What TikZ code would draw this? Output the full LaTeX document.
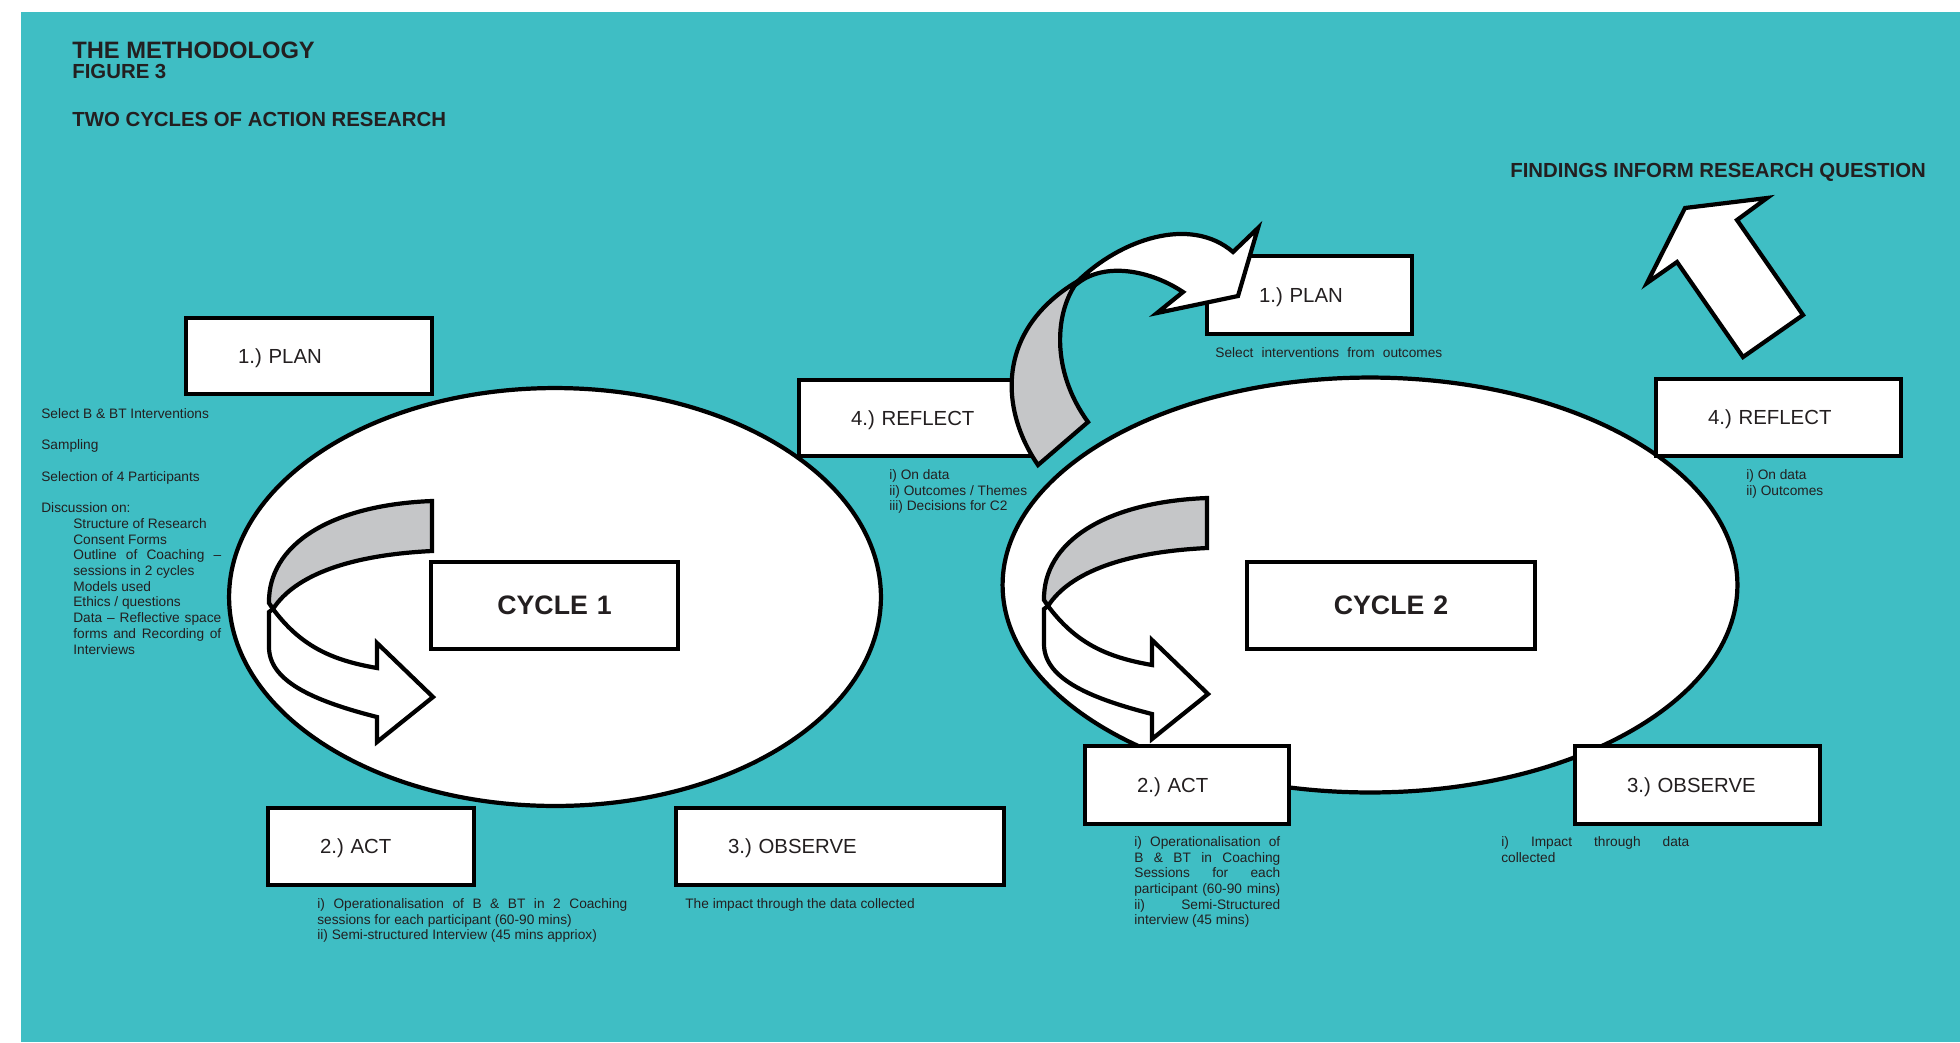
\documentclass[tikz,border=0pt]{standalone}
\usepackage{fontspec}
\setmainfont{Liberation Sans}
\usetikzlibrary{shapes.geometric}
\definecolor{ink}{HTML}{231F20}
\definecolor{lagoon}{HTML}{3FBEC4}
\definecolor{fold}{HTML}{C5C6C8}
\frenchspacing
\newcommand{\notefont}{\fontsize{7.8}{8.95}\selectfont}
\newcommand{\jline}[2]{\hbox to #1{#2}}
\tikzset{
  base/.style={inner sep=0pt, text=ink},
  note/.style={base, anchor=north west, align=left, font=\notefont},
  heading/.style={base, anchor=base west, font=\bfseries\fontsize{11.6}{13}\selectfont},
  stage/.style={draw=black, line width=2.4pt, fill=white, text=ink, inner xsep=1.04cm, inner ysep=0pt, text depth=0pt, align=left, font=\fontsize{11.6}{13}\selectfont},
  cycbox/.style={stage, align=center, inner xsep=0pt, font=\bfseries\fontsize{15.2}{17}\selectfont},
  cyclering/.style={ellipse, draw=black, line width=2.4pt, fill=white, inner sep=0pt},
  ribbon/.style={draw=black, line width=2.4pt, fill=#1},
}
\begin{document}
\begin{tikzpicture}[x=0.02cm, y=-0.02cm]
  \useasboundingbox (0,0) rectangle (1960,1042);
  \fill[lagoon] (21,12) rectangle (1960,1042);
  % headings
  \node[heading, font=\bfseries\fontsize{13.5}{15}\selectfont] (method) at (72,58) {THE METHODOLOGY};
  \node[heading] (figno) at (72,78) {FIGURE 3};
  \node[heading] (twocycles) at (72,126) {TWO CYCLES OF ACTION RESEARCH};
  \node[heading] (findings) at (1510,177) {FINDINGS INFORM RESEARCH QUESTION};
  % notes
  \node[note] (prepnote) at (41,408) {Select B \& BT Interventions\\[8.95pt]
    Sampling\\[8.95pt]
    Selection of 4 Participants\\[8.95pt]
    Discussion on:\\
    \hspace*{0.64cm}Structure of Research\\
    \hspace*{0.64cm}Consent Forms\\
    \hspace*{0.64cm}\jline{2.96cm}{Outline of Coaching --}\\
    \hspace*{0.64cm}sessions in 2 cycles\\
    \hspace*{0.64cm}Models used\\
    \hspace*{0.64cm}Ethics / questions\\
    \hspace*{0.64cm}\jline{2.96cm}{Data -- Reflective space}\\
    \hspace*{0.64cm}\jline{2.96cm}{forms and Recording of}\\
    \hspace*{0.64cm}Interviews};
  \node[note] (actnote1) at (317,898) {\jline{6.2cm}{i) Operationalisation of B \& BT in 2 Coaching}\\
    sessions for each participant (60-90 mins)\\
    ii) Semi-structured Interview (45 mins appriox)};
  \node[note] (obsnote1) at (685,898) {The impact through the data collected};
  \node[note] (refnote1) at (889,469) {i) On data\\ ii) Outcomes / Themes\\ iii) Decisions for C2};
  \node[note] (plannote2) at (1215,347) {\jline{4.54cm}{Select interventions from outcomes}};
  \node[note] (refnote2) at (1746,469) {i) On data\\ ii) Outcomes};
  \node[note] (actnote2) at (1134,836) {\jline{2.92cm}{i) Operationalisation of}\\
    \jline{2.92cm}{B \& BT in Coaching}\\
    \jline{2.92cm}{Sessions for each}\\
    \jline{2.92cm}{participant (60-90 mins)}\\
    \jline{2.92cm}{ii) Semi-Structured}\\
    interview (45 mins)};
  \node[note] (obsnote2) at (1501,836) {\jline{3.76cm}{i) Impact through data}\\ collected};
  % the two cycles
  \node[cyclering, minimum width=13.04cm, minimum height=8.36cm] (ring1) at (555,597) {};
  \node[cyclering, minimum width=14.7cm, minimum height=8.3cm] (ring2) at (1370,585) {};
  \node[stage, text width=2.84cm, minimum height=1.52cm] (plan1) at (309,356) {1.) PLAN};
  \node[stage, text width=2.68cm, minimum height=1.52cm] (reflect1) at (918,418) {4.) REFLECT};
  \node[stage, text width=2.04cm, minimum height=1.54cm] (act1) at (371,846.5) {2.) ACT};
  \node[stage, text width=4.48cm, minimum height=1.54cm] (observe1) at (840,846.5) {3.) OBSERVE};
  \node[cycbox, text width=4.94cm, minimum height=1.74cm] (cycle1) at (554.5,605.5) {CYCLE 1};
  \node[stage, text width=2.02cm, minimum height=1.56cm] (plan2) at (1309.5,295) {1.) PLAN};
  \node[stage, text width=2.82cm, minimum height=1.54cm] (reflect2) at (1778.5,417.5) {4.) REFLECT};
  \node[stage, text width=2.00cm, minimum height=1.56cm] (act2) at (1187,785) {2.) ACT};
  \node[stage, text width=2.82cm, minimum height=1.56cm] (observe2) at (1697.5,785) {3.) OBSERVE};
  \node[cycbox, text width=5.76cm, minimum height=1.74cm] (cycle2) at (1391,605.5) {CYCLE 2};
  % twisted arrows inside the rings
  \foreach \dx/\dy in {0/0, 775/-3} {
    \begin{scope}[shift={(\dx,\dy)}]
      \draw[ribbon=fold] (432,501) .. controls (330,505) and (268,545) .. (269,603) -- (273,609) .. controls (295,575) and (350,555) .. (432,551) -- cycle;
      \draw[ribbon=white] (273,609) .. controls (300,645) and (330,660) .. (377,668) -- (377,643) -- (433,697) -- (377,742) -- (377,717) .. controls (310,700) and (269,680) .. (269,647) -- (269,612) -- cycle;
    \end{scope}
  }
  % from reflect to the next plan
  \draw[ribbon=fold] (1038,465) .. controls (1000,410) and (995,330) .. (1078,281) .. controls (1055,310) and (1050,370) .. (1088,422) -- cycle;
  \draw[ribbon=white] (1078,281) .. controls (1120,240) and (1190,215) .. (1233,252) -- (1258,228) -- (1238,296) -- (1157,313) -- (1183,292) .. controls (1150,270) and (1105,262) .. (1078,283) -- cycle;
  % findings
  \draw[ribbon=white] (1685,208) -- (1767,198) -- (1737,220) -- (1803,315) -- (1743,357) -- (1677,262) -- (1647,283) -- cycle;
\end{tikzpicture}
\end{document}
